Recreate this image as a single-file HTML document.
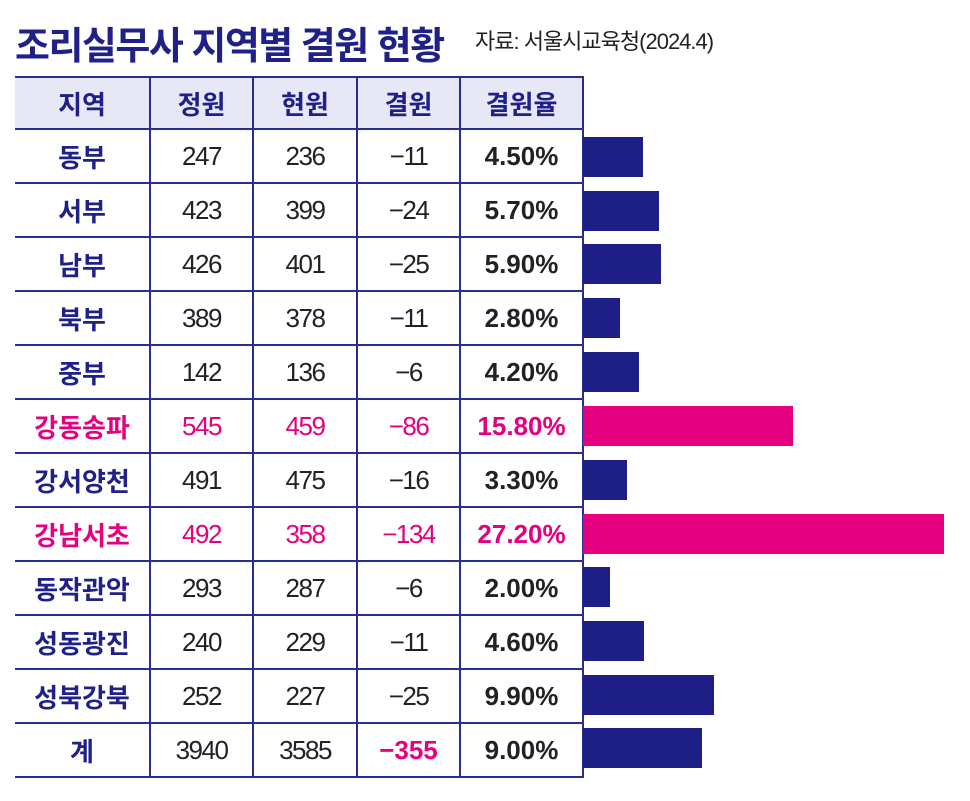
<!DOCTYPE html>
<html><head><meta charset="utf-8"><style>
body{margin:0;width:970px;height:801px;background:#fff;position:relative;overflow:hidden;font-family:"Liberation Sans","Noto Sans CJK KR",sans-serif}
.t{position:absolute;left:15px;top:15px;font-size:38px;font-weight:bold;color:#1f2088;letter-spacing:-1.5px;white-space:nowrap}
.s{position:absolute;left:475px;top:24px;font-size:22px;color:#222;letter-spacing:-1px;white-space:nowrap}
table{position:absolute;left:15px;top:76px;border-collapse:collapse;table-layout:fixed}
td{border:2px solid #2b2c8f;height:52px;text-align:center;font-size:26px;color:#222;padding:0;letter-spacing:-1.5px}
tr td:first-child{border-left:none;color:#1f2088;font-weight:bold;letter-spacing:0}
tr.h td{height:50px;background:#e7e7f5;color:#1f2088;font-weight:bold;letter-spacing:0}
td.p{font-weight:bold;letter-spacing:0}
tr.k td{color:#e4007f}
.b{position:absolute;left:583px;height:40px;background:#1e1f86}
.pk{background:#e4007f}
</style></head><body>
<div class="t">조리실무사 지역별 결원 현황</div>
<div class="s">자료: 서울시교육청(2024.4)</div>
<table>
<colgroup><col style="width:135px"><col style="width:103px"><col style="width:104px"><col style="width:103px"><col style="width:123px"></colgroup>
<tr class="h"><td>지역</td><td>정원</td><td>현원</td><td>결원</td><td>결원율</td></tr>
<tr><td>동부</td><td>247</td><td>236</td><td>−11</td><td class="p">4.50%</td></tr>
<tr><td>서부</td><td>423</td><td>399</td><td>−24</td><td class="p">5.70%</td></tr>
<tr><td>남부</td><td>426</td><td>401</td><td>−25</td><td class="p">5.90%</td></tr>
<tr><td>북부</td><td>389</td><td>378</td><td>−11</td><td class="p">2.80%</td></tr>
<tr><td>중부</td><td>142</td><td>136</td><td>−6</td><td class="p">4.20%</td></tr>
<tr class="k"><td style="color:#e4007f">강동송파</td><td>545</td><td>459</td><td>−86</td><td class="p">15.80%</td></tr>
<tr><td>강서양천</td><td>491</td><td>475</td><td>−16</td><td class="p">3.30%</td></tr>
<tr class="k"><td style="color:#e4007f">강남서초</td><td>492</td><td>358</td><td>−134</td><td class="p">27.20%</td></tr>
<tr><td>동작관악</td><td>293</td><td>287</td><td>−6</td><td class="p">2.00%</td></tr>
<tr><td>성동광진</td><td>240</td><td>229</td><td>−11</td><td class="p">4.60%</td></tr>
<tr><td>성북강북</td><td>252</td><td>227</td><td>−25</td><td class="p">9.90%</td></tr>
<tr><td>계</td><td>3940</td><td>3585</td><td style="color:#e4007f;font-weight:bold;letter-spacing:0">−355</td><td class="p">9.00%</td></tr>
</table>
<div class="b" style="top:137px;width:60px"></div>
<div class="b" style="top:191px;width:76px"></div>
<div class="b" style="top:244px;width:78px"></div>
<div class="b" style="top:298px;width:37px"></div>
<div class="b" style="top:352px;width:56px"></div>
<div class="b pk" style="top:406px;width:210px"></div>
<div class="b" style="top:460px;width:44px"></div>
<div class="b pk" style="top:514px;width:361px"></div>
<div class="b" style="top:567px;width:27px"></div>
<div class="b" style="top:621px;width:61px"></div>
<div class="b" style="top:675px;width:131px"></div>
<div class="b" style="top:728px;width:119px"></div>
</body></html>
